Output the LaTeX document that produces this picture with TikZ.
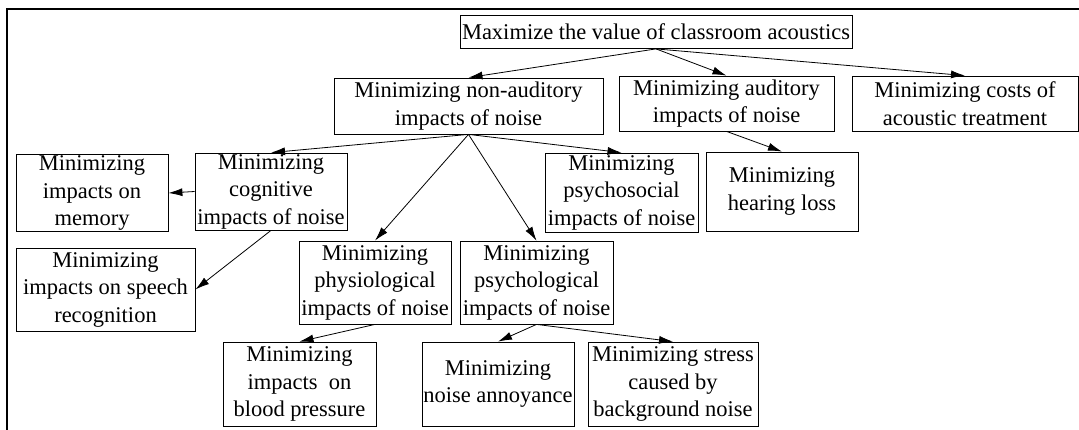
\documentclass[tikz,border=0pt]{standalone}
\usepackage{fontspec}
\setmainfont{Liberation Serif}
\usetikzlibrary{arrows.meta}

\tikzset{
  goal/.style={draw, line width=0.8pt, align=center, inner sep=1pt,
               font=\fontsize{22.5}{27.5}\selectfont},
  gsize/.style 2 args={minimum width=#1pt, minimum height=#2pt},
  link/.style={-{Latex[length=14pt,width=8pt]}, line width=0.8pt},
}

\begin{document}
\begin{tikzpicture}[x=1pt,y=-1pt]
    \useasboundingbox (0,0) rectangle (1079,430);
    \draw[line width=2pt] (7,430) |- (1079,9);
    % level 0 and 1
    \node[goal, gsize={392}{33}] (max) at (656,32) {Maximize the value of classroom acoustics};
    \node[goal, gsize={269}{56}] (nonaud) at (468.5,106) {Minimizing non-auditory\\impacts of noise};
    \node[goal, gsize={215}{55}] (aud) at (726.5,103.5) {Minimizing auditory\\impacts of noise};
    \node[goal, gsize={226}{55}] (costs) at (965,103.5) {Minimizing costs of\\acoustic treatment};
    % level 2
    \node[goal, gsize={152}{76}] (memory) at (92,193) {Minimizing\\impacts on\\memory};
    \node[goal, gsize={152}{77}] (cognitive) at (271,191.5) {Minimizing\\cognitive\\impacts of noise};
    \node[goal, gsize={153}{79}] (psychosocial) at (621.5,192.5) {Minimizing\\psychosocial\\impacts of noise};
    \node[goal, gsize={152}{79}] (hearing) at (782,191.5) {Minimizing\\hearing loss};
    % level 3
    \node[goal, gsize={179}{83}] (speech) at (105.5,289.5) {Minimizing\\impacts on speech\\recognition};
    \node[goal, gsize={152}{83}] (physio) at (375,282.5) {Minimizing\\physiological\\impacts of noise};
    \node[goal, gsize={153}{83}] (psycho) at (536.5,282.5) {Minimizing\\psychological\\impacts of noise};
    % level 4
    \node[goal, gsize={153}{84}] (blood) at (299.5,384) {Minimizing\\impacts~ on\\blood pressure};
    \node[goal, gsize={152}{84}] (annoy) at (498,384) {Minimizing\\noise annoyance};
    \node[goal, gsize={170}{84}] (stress) at (673,384) {Minimizing stress\\caused by\\background noise};

    \draw[link] (max.south) -- (nonaud.north);
    \draw[link] (max.south) -- (aud.north);
    \draw[link] (max.south) -- (costs.north);
    \draw[link] (nonaud.south) -- (cognitive.north);
    \draw[link] (nonaud.south) -- (psychosocial.north);
    \draw[link] (nonaud.south) -- (physio.north);
    \draw[link] (nonaud.south) -- (psycho.north);
    \draw[link] (aud.south) -- (hearing.north);
    \draw[link] (cognitive.west) -- (memory.east);
    \draw[link] (cognitive.south) -- (speech.east);
    \draw[link] (physio.south) -- (blood.north);
    \draw[link] (psycho.south) -- (annoy.north);
    \draw[link] (psycho.south) -- (stress.north);
\end{tikzpicture}
\end{document}
